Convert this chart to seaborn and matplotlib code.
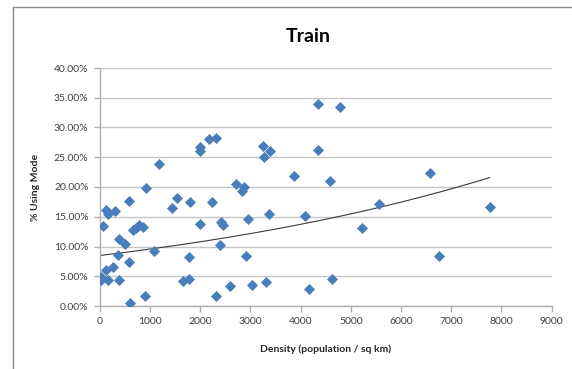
import numpy as np
import pandas as pd
import matplotlib
matplotlib.use("Agg")
import matplotlib.pyplot as plt
import seaborn as sns
from matplotlib.ticker import FuncFormatter, MultipleLocator
from matplotlib.lines import Line2D

density = [22, 30, 65, 123, 167, 131, 160, 261, 312, 363, 385, 378, 508, 588, 595,
           610, 668, 719, 777, 864, 922, 900, 1089, 1191, 1438, 1540, 1670, 1772,
           1786, 1801, 1997, 2004, 1997, 2171, 2309, 2237, 2425, 2447, 2396, 2324,
           2593, 2709, 2825, 2876, 2956, 2905, 3036, 3246, 3268, 3391, 3377, 3304,
           3871, 4096, 4176, 4343, 4343, 4582, 4626, 4793, 5229, 5556, 6572, 6747, 7771]
pct_mode = [4.9, 4.4, 13.5, 16.2, 15.4, 6.0, 4.3, 6.6, 16.0, 8.6, 11.3, 4.4, 10.5, 17.6, 7.4,
            0.5, 12.8, 13.1, 13.6, 13.2, 19.9, 1.7, 9.3, 23.9, 16.5, 18.2, 4.2, 8.2,
            4.5, 17.5, 26.8, 26.0, 13.7, 28.0, 28.3, 17.4, 14.2, 13.6, 10.2, 1.7,
            3.4, 20.5, 19.4, 20.0, 14.7, 8.4, 3.5, 26.9, 25.0, 26.1, 15.5, 4.0,
            21.8, 15.1, 2.9, 33.9, 26.3, 21.0, 4.5, 33.4, 13.1, 17.1, 22.3, 8.4, 16.7]

title = "Train"
x_label = "Density (population / sq km)"
y_label = "% Using Mode"

df = pd.DataFrame({"density": density, "pct": np.array(pct_mode) / 100.0})

sns.set_theme(style="white")
plt.rcParams['font.family'] = ['Lato', 'DejaVu Sans']

W, H = 572, 369
fig = plt.figure(figsize=(W / 100, H / 100), dpi=100)
ax = fig.add_axes([99.6 / W, 1 - 306 / H, (551.7 - 99.6) / W, (306 - 68) / H])

sns.scatterplot(data=df, x="density", y="pct", marker="D", s=32, color="#4A7EBB",
                edgecolor="#4A7EBB", linewidth=0, ax=ax, zorder=3)

# exponential trendline (least squares on ln y, like Excel)
b, ln_a = np.polyfit(df["density"], np.log(df["pct"]), 1)
xs = np.linspace(0, df["density"].max(), 200)
ax.plot(xs, np.exp(ln_a) * np.exp(b * xs), color="#3a3a3a", lw=0.8, zorder=2)

ax.set_xlim(0, 9000)
ax.set_ylim(0, 0.40)
ax.xaxis.set_major_locator(MultipleLocator(1000))
ax.yaxis.set_major_locator(MultipleLocator(0.05))
ax.yaxis.set_major_formatter(FuncFormatter(lambda v, p: f"{v*100:.2f}%"))
ax.grid(axis="y", color="#c4c4c4", lw=1.0)
ax.grid(axis="x", visible=False)
ax.set_axisbelow(True)
for s in ["top", "right"]:
    ax.spines[s].set_visible(False)
for s in ["left", "bottom"]:
    ax.spines[s].set_color("#b0b0b0")
    ax.spines[s].set_linewidth(1.0)
ax.tick_params(axis="both", which="major", length=4, width=1.0, color="#b0b0b0",
               labelsize=7.5, labelcolor="#404040", direction="out",
               bottom=True, left=True, pad=4)
ax.set_xlabel(x_label, fontsize=7.5, fontweight="bold", color="#262626", labelpad=13)
ax.set_ylabel(y_label, fontsize=7.5, fontweight="bold", color="#262626", labelpad=10)
fig.text(308 / W, 1 - 36 / H, title, ha="center", va="center", fontsize=14,
         fontweight="bold", color="black")

# chart area border (left and top visible)
fig.add_artist(Line2D([12.7 / W, 12.7 / W], [0, 1 - 7 / H], transform=fig.transFigure,
                      color="#8c8c8c", lw=1.0))
fig.add_artist(Line2D([12.7 / W, 1], [1 - 7 / H, 1 - 7 / H], transform=fig.transFigure,
                      color="#8c8c8c", lw=1.0))

fig.savefig("out.png", dpi=100)
